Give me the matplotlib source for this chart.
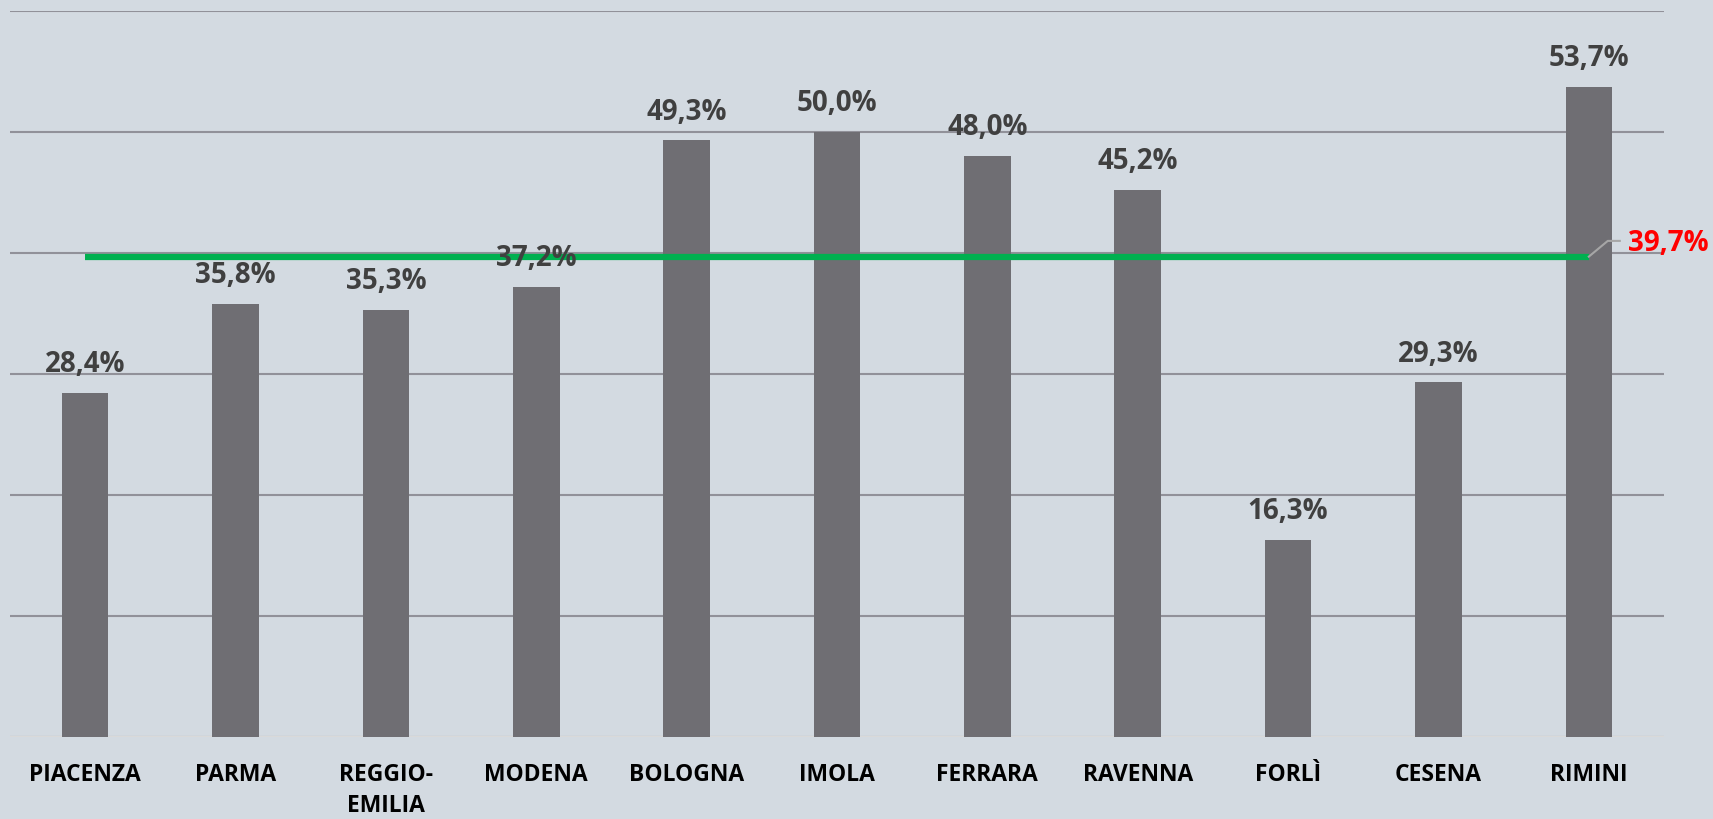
import matplotlib.pyplot as plt

# Data
cities = ["PIACENZA", "PARMA", "REGGIO-\nEMILIA", "MODENA", "BOLOGNA", "IMOLA",
          "FERRARA", "RAVENNA", "FORLÌ", "CESENA", "RIMINI"]
values = [28.4, 35.8, 35.3, 37.2, 49.3, 50.0, 48.0, 45.2, 16.3, 29.3, 53.7]
average = 39.7

bg = "#d3dae1"
plt.rcParams['font.family'] = ['Open Sans', 'DejaVu Sans']

fig = plt.figure(figsize=(17.13, 8.19), dpi=100, facecolor=bg)
ax = fig.add_axes([10 / 1713, (819 - 737) / 819, 1654 / 1713, 726 / 819])
ax.set_facecolor(bg)

x = list(range(len(cities)))
ax.bar(x, values, width=0.31, color="#6f6e73", zorder=2)

# value labels
for xi, v in zip(x, values):
    ax.annotate(f"{v:.1f}".replace(".", ",") + "%", (xi, v), xytext=(0, 10),
                textcoords="offset points", ha="center", va="bottom",
                fontsize=20, fontweight="bold", color="#404040", zorder=4)

# average line
ax.plot([x[0], x[-1]], [average, average], color="#00b050", lw=4.5,
        solid_capstyle="butt", zorder=3)
ax.plot([x[-1], x[-1] + 0.126, x[-1] + 0.206], [average, 41.0, 41.0],
        color="#a6a6a6", lw=1.5, zorder=3)
ax.text(x[-1] + 0.26, 40.8, f"{average:.1f}".replace(".", ",") + "%",
        ha="left", va="center", fontsize=20, fontweight="bold", color="#ff0000")

ax.set_xlim(-0.5, len(cities) - 0.5)
ax.set_ylim(0, 60)
ax.set_yticks(range(0, 61, 10))
ax.set_yticklabels([])
ax.yaxis.grid(True, color="#919199", lw=1.5, zorder=0)
ax.set_axisbelow(True)
ax.axhline(0, color="#d9d9d9", lw=1.5, zorder=1)
ax.tick_params(length=0)

ax.set_xticks(x)
ax.set_xticklabels(cities, fontsize=16.5, fontweight="bold", color="black",
                   linespacing=1.35)
ax.tick_params(axis="x", pad=19)

for s in ax.spines.values():
    s.set_visible(False)

fig.savefig("out.png", dpi=100, facecolor=bg)
